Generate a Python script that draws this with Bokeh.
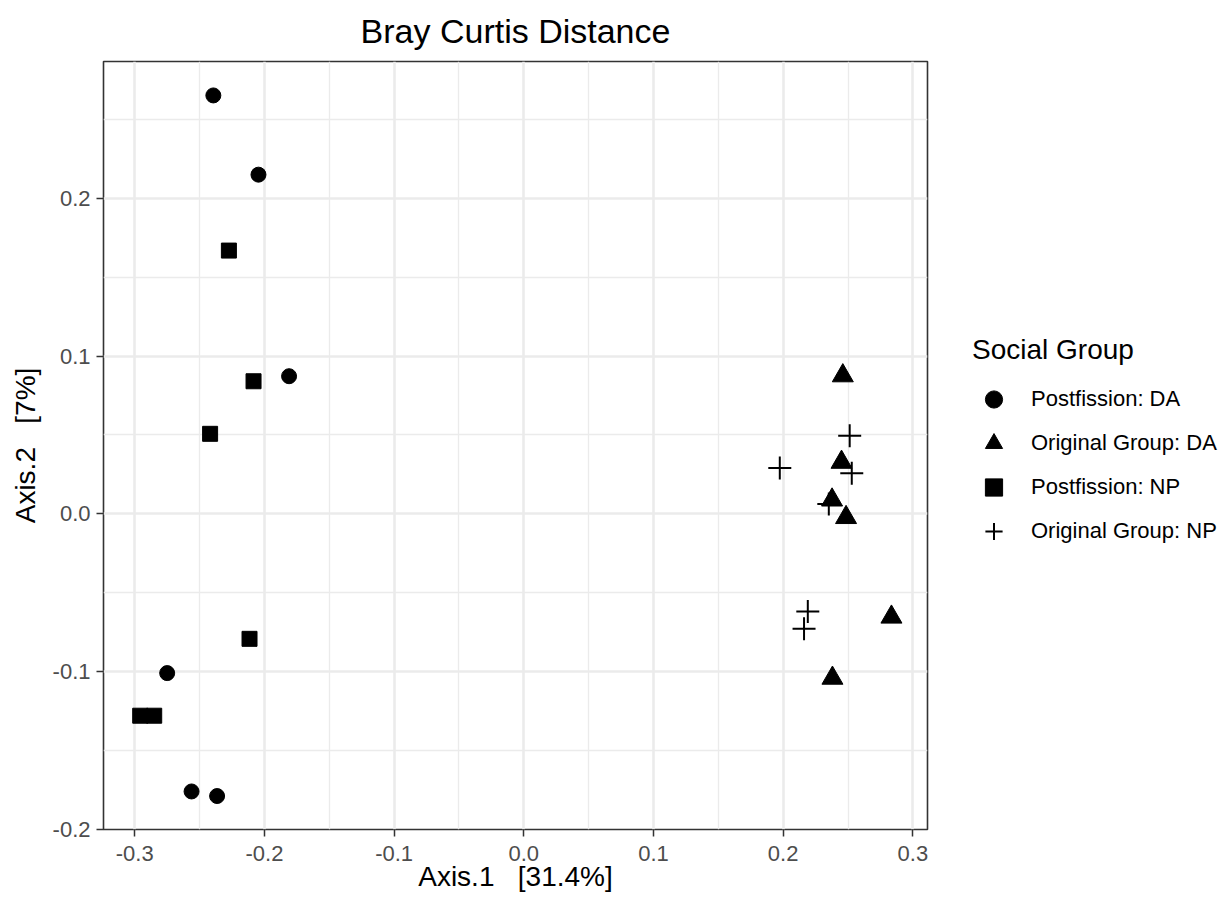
from bokeh.plotting import figure
from bokeh.models import Range1d, FixedTicker, Legend, LegendItem, NumeralTickFormatter
from bokeh.embed import file_html
from bokeh.resources import INLINE

# ---- data ----
x_ticks = [-0.3, -0.2, -0.1, 0.0, 0.1, 0.2, 0.3]
x_minor = [-0.35, -0.25, -0.15, -0.05, 0.05, 0.15, 0.25, 0.35]
y_ticks = [-0.2, -0.1, 0.0, 0.1, 0.2]
y_minor = [-0.25, -0.15, -0.05, 0.05, 0.15, 0.25]

groups = ["Postfission: DA", "Original Group: DA", "Postfission: NP", "Original Group: NP"]

pf_da_x = [-0.2394, -0.2046, -0.1810, -0.2750, -0.2562, -0.2365]
pf_da_y = [0.2651, 0.2149, 0.0872, -0.1009, -0.1759, -0.1788]

og_da_x = [0.2460, 0.2450, 0.2377, 0.2485, 0.2835, 0.2380]
og_da_y = [0.0875, 0.0327, 0.0088, -0.0023, -0.0654, -0.1041]

pf_np_x = [-0.2274, -0.2084, -0.2419, -0.2115, -0.2958, -0.2850]
pf_np_y = [0.1668, 0.0840, 0.0507, -0.0792, -0.1279, -0.1279]

og_np_x = [0.2513, 0.2529, 0.1974, 0.2352, 0.2190, 0.2161]
og_np_y = [0.0494, 0.0257, 0.0291, 0.0063, -0.0619, -0.0728]

FONT = "Liberation Sans"
NB = "\u00a0"

p = figure(frame_width=824, frame_height=768,
           min_border_left=103, min_border_right=298,
           min_border_top=61, min_border_bottom=71,
           x_range=Range1d(-0.3241, 0.3113), y_range=Range1d(-0.2000, 0.2866),
           output_backend="svg", toolbar_location=None,
           background_fill_color="white", border_fill_color="white")

p.title.text = "Bray Curtis Distance"
p.title.align = "center"
p.title.vertical_align = "top"
p.title.text_font = FONT
p.title.text_font_size = "34px"
p.title.text_font_style = "normal"
p.title.text_color = "black"
p.title.standoff = 20

p.outline_line_color = "#333333"
p.outline_line_width = 1.6
p.outline_line_alpha = 1.0

p.xaxis.ticker = FixedTicker(ticks=x_ticks, minor_ticks=x_minor)
p.yaxis.ticker = FixedTicker(ticks=y_ticks, minor_ticks=y_minor)
p.xaxis.formatter = NumeralTickFormatter(format="0.0")
p.yaxis.formatter = NumeralTickFormatter(format="0.0")

for ax in (p.xaxis[0], p.yaxis[0]):
    ax.axis_line_color = None
    ax.major_tick_out = 7
    ax.major_tick_in = 0
    ax.minor_tick_out = 0
    ax.minor_tick_in = 0
    ax.major_tick_line_color = "#333333"
    ax.major_tick_line_width = 1.5
    ax.major_label_text_font = FONT
    ax.major_label_text_font_size = "22px"
    ax.major_label_text_color = "#4D4D4D"
    ax.axis_label_text_font = FONT
    ax.axis_label_text_font_size = "28px"
    ax.axis_label_text_font_style = "normal"
    ax.axis_label_text_color = "black"

p.xaxis.major_label_standoff = 9
p.xaxis.axis_label_standoff = -3
p.yaxis.major_label_standoff = 6
p.yaxis.axis_label_standoff = 9

p.xaxis.axis_label = "Axis.1" + NB * 3 + "[31.4%]"
p.yaxis.axis_label = "Axis.2" + NB * 3 + "[7%]"

for g in (p.xgrid[0], p.ygrid[0]):
    g.grid_line_color = "#EBEBEB"
    g.grid_line_width = 2.6
    g.minor_grid_line_color = "#EBEBEB"
    g.minor_grid_line_width = 1.3

r1 = p.scatter(pf_da_x, pf_da_y, marker="circle", size=15, color="black")
r3 = p.scatter(pf_np_x, pf_np_y, marker="square", size=15, color="black")
r2 = p.scatter(og_da_x, og_da_y, marker="triangle", size=21, color="black")
r4 = p.scatter(og_np_x, og_np_y, marker="cross", size=23, line_color="black", line_width=2)

legend = Legend(
    items=[LegendItem(label=groups[0], renderers=[r1]),
           LegendItem(label=groups[1], renderers=[r2]),
           LegendItem(label=groups[2], renderers=[r3]),
           LegendItem(label=groups[3], renderers=[r4])],
    location=(45, 276),
    title="Social Group",
    title_text_font=FONT, title_text_font_size="28px", title_text_font_style="normal",
    title_text_color="black",
    title_standoff=11,
    label_text_font=FONT, label_text_font_size="22px", label_text_color="black",
    label_standoff=16, glyph_width=43, glyph_height=44, label_height=44,
    spacing=0, padding=0, margin=0,
    border_line_color=None, background_fill_alpha=0,
)
p.add_layout(legend, "right")

open("out.html", "w").write(file_html(p, INLINE))
